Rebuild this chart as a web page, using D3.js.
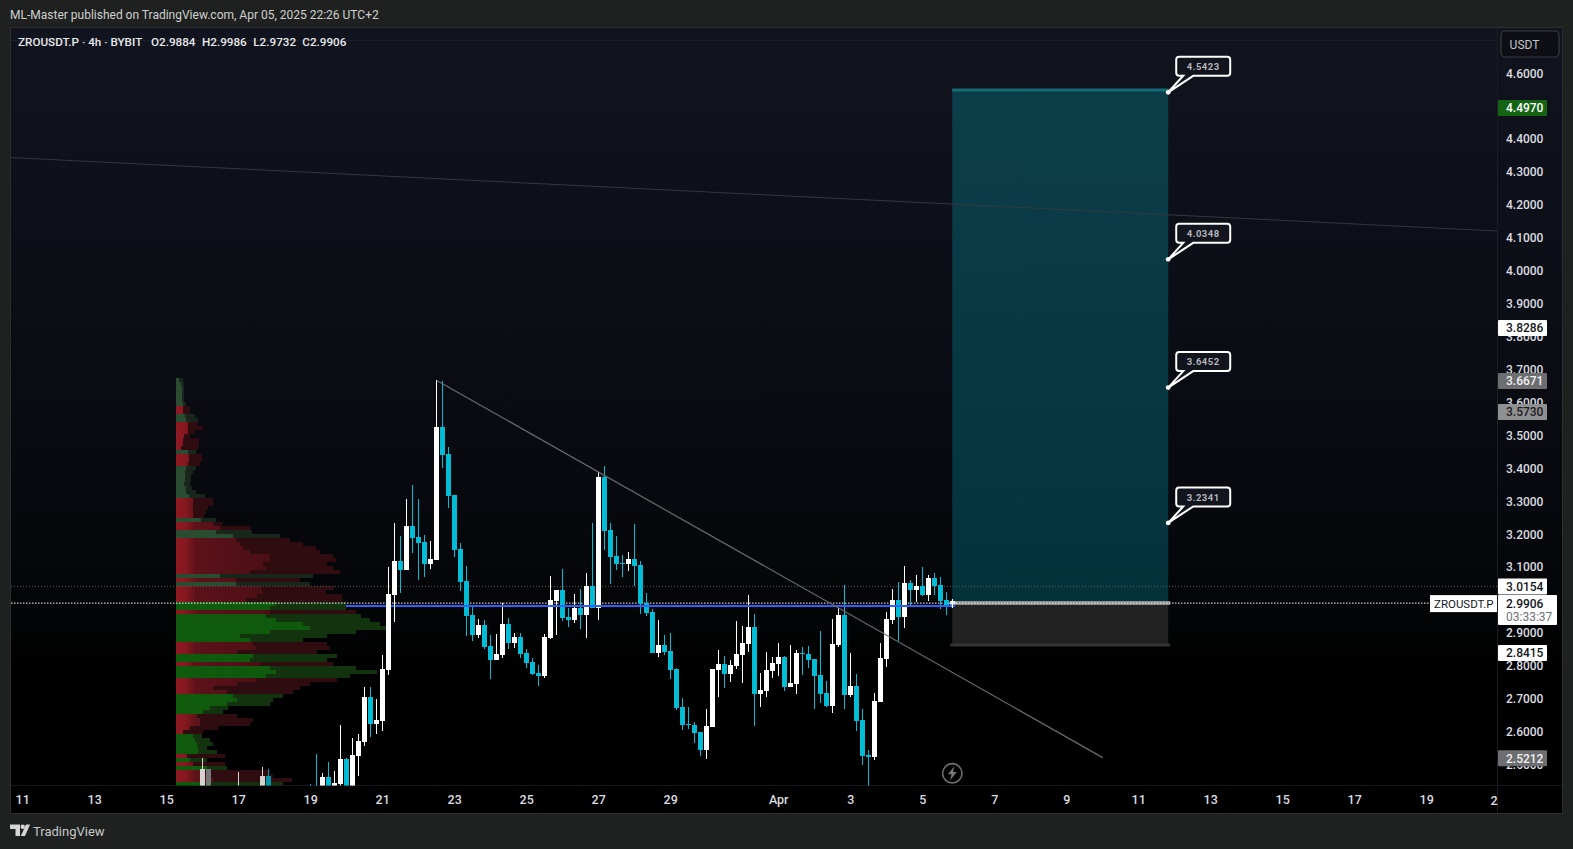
<!DOCTYPE html>
<html><head><meta charset="utf-8">
<style>html,body{margin:0;padding:0;background:#1f2120;overflow:hidden}svg{display:block}text{font-family:Roboto,"Open Sans",sans-serif}</style>
<script src="https://cdn.jsdelivr.net/npm/d3@7"></script></head><body><div id="c"></div>
<script>
// ---------- DATA ----------
const barOpen=[2.41,2.42,2.41,2.455,2.41,2.434,2.51,2.42,2.519,2.562,2.699,2.617,2.626,2.782,3.01,3.114,3.086,3.221,3.187,3.172,3.105,3.117,3.522,3.44,3.315,3.15,3.053,2.949,2.888,2.919,2.855,2.812,2.827,2.922,2.864,2.882,2.833,2.806,2.772,2.763,2.879,2.992,3.025,2.943,2.934,2.971,2.949,3.038,2.971,3.37,3.208,3.129,3.108,3.105,3.12,3.102,2.986,2.958,2.833,2.858,2.839,2.785,2.668,2.617,2.614,2.592,2.537,2.608,2.781,2.8,2.769,2.793,2.827,2.86,2.912,2.708,2.717,2.778,2.8,2.821,2.729,2.739,2.833,2.83,2.815,2.766,2.711,2.672,2.857,2.949,2.705,2.732,2.629,2.522,2.516,2.684,2.815,2.934,2.995,2.943,3.046,3.025,3.037,3.01,3.062,3.04,2.995,2.9884];
const barHigh=[2.434,2.526,2.468,2.501,2.474,2.614,2.513,2.574,2.587,2.73,2.73,2.693,2.827,3.096,3.23,3.19,3.303,3.345,3.303,3.193,3.175,3.666,3.662,3.461,3.315,3.169,3.099,2.974,2.937,2.934,2.888,2.891,2.986,2.94,2.894,2.894,2.846,2.818,2.797,2.891,3.068,3.025,3.089,2.971,3.013,3.028,3.077,3.23,3.385,3.403,3.23,3.19,3.132,3.141,3.227,3.114,3.016,2.967,2.934,2.888,2.894,2.788,2.696,2.668,2.623,2.592,2.662,2.784,2.842,2.824,2.812,2.931,2.915,3.01,2.952,2.772,2.836,2.821,2.864,2.824,2.857,2.842,2.851,2.854,2.815,2.9,2.748,2.937,2.97,3.04,2.833,2.769,2.662,2.537,2.711,2.864,2.958,3.028,3.049,3.098,3.056,3.071,3.095,3.071,3.077,3.065,3.019,2.9986];
const barLow=[2.39,2.39,2.4,2.4,2.4,2.428,2.41,2.41,2.458,2.55,2.577,2.587,2.596,2.766,2.928,3.016,3.086,3.138,3.056,3.065,3.089,3.117,3.397,3.275,3.126,3.022,2.885,2.87,2.879,2.846,2.754,2.812,2.818,2.846,2.849,2.818,2.788,2.766,2.733,2.757,2.876,2.888,2.931,2.913,2.925,2.907,2.879,2.971,2.934,3.147,3.044,3.086,3.065,3.083,3.036,2.952,2.946,2.833,2.821,2.827,2.754,2.66,2.598,2.601,2.559,2.519,2.51,2.608,2.699,2.726,2.745,2.784,2.742,2.836,2.611,2.668,2.699,2.757,2.763,2.717,2.729,2.708,2.766,2.787,2.662,2.681,2.668,2.65,2.851,2.662,2.699,2.595,2.492,2.428,2.507,2.684,2.79,2.921,2.87,2.909,2.979,2.988,3.007,2.992,3.01,2.967,2.949,2.9732];
const barClose=[2.4,2.4,2.455,2.41,2.437,2.51,2.42,2.523,2.565,2.699,2.617,2.629,2.785,3.013,3.114,3.086,3.221,3.184,3.169,3.105,3.12,3.522,3.437,3.312,3.147,3.05,2.946,2.888,2.919,2.852,2.812,2.83,2.922,2.864,2.882,2.83,2.803,2.769,2.763,2.882,2.995,3.025,2.94,2.934,2.971,2.949,3.038,2.971,3.37,3.205,3.126,3.105,3.105,3.12,3.099,2.983,2.955,2.833,2.858,2.836,2.782,2.666,2.614,2.614,2.589,2.537,2.611,2.784,2.8,2.769,2.796,2.83,2.864,2.912,2.708,2.72,2.781,2.803,2.821,2.729,2.742,2.833,2.83,2.812,2.763,2.708,2.672,2.86,2.949,2.705,2.732,2.626,2.519,2.516,2.687,2.818,2.937,2.995,2.943,3.046,3.025,3.037,3.01,3.062,3.037,2.992,2.979,2.9906];
const firstBarDay=8; // Mar 19
const earlyIndex=[-18,-17,-12,-8,-7];
const earlyTop=[2.48,2.48,2.40,2.458,2.458];
const earlyHigh=[2.513,2.48,2.471,2.486,2.48];
const earlyKind=['up','flat','up','up','down'];
const vpTopPrice=3.672, vpStep=0.012195;
const vpInner=[3,5,6,6,6,6,7,7,7,9,10,12,12,12,8,7,7,5,12,13,13,12,10,9,9,9,8,10,10,13,17,17,17,17,17,25,37,44,40,57,60,64,67,74,94,94,87,90,74,44,60,60,85,87,81,70,100,94,94,90,100,127,134,94,64,74,77,81,61,77,74,84,94,100,90,81,61,37,51,57,61,51,34,27,21,24,24,14,7,17,19,21,22,22,11,14,17,31,24,31,37,27];
const vpTotal=[7,8,8,8,8,8,10,14,14,19,22,22,27,19,14,23,23,22,20,26,26,24,20,17,15,15,14,16,20,29,37,37,32,30,28,40,46,75,76,104,114,127,140,144,157,160,151,157,164,137,124,134,158,150,166,167,170,170,180,185,194,204,211,180,151,127,151,154,141,161,151,157,180,201,174,161,134,124,117,107,97,94,52,47,61,77,74,42,27,26,34,37,31,41,49,31,49,51,94,97,116,107];
const vpSide="nnnnnnnrrnnrrrrrrrnrrrnnnnnnnnrrrrrnrrnnrrrrrrrrrnrnrrrrggrgggggggrrrggrgggrrrrgggggrrrrrgggggrgrgrrrg".split('');
const priceTicks=[4.6,4.4,4.3,4.2,4.1,4.0,3.9,3.8,3.7,3.6,3.5,3.4,3.3,3.2,3.1,2.9,2.8,2.7,2.6,2.5];
const dayTicks=[0,2,4,6,8,10,12,14,16,18,21,23,25,27,29,31,33,35,37,39];
const dayLabels=['11','13','15','17','19','21','23','25','27','29','Apr','3','5','7','9','11','13','15','17','19'];
const lastDayLabel='2';
const targets=[4.5423,4.0348,3.6452,3.2341];
const targetLabels=['4.5423','4.0348','3.6452','3.2341'];
const trendLong=[[-0.325,4.344],[40.95,4.121]];
const trendDown=[[11.5,3.6671],[30,2.5212]];
const boxDays=[25.82,31.82], boxTarget=4.549, boxEntry=2.9906, boxStop=2.863;
const lastPrice=2.9906, dottedLevel=3.043, bluePrice=2.9815, blueDays=[4.8,25.9];
const scaleTags=[{p:4.497,t:'4.4970',k:'green'},{p:3.8286,t:'3.8286',k:'white'},{p:3.6671,t:'3.6671',k:'gray'},{p:3.573,t:'3.5730',k:'lgray'},{p:dottedLevel,t:'3.0154',k:'white'},{p:2.8415,t:'2.8415',k:'white'},{p:2.5212,t:'2.5212',k:'gray'}];
const headerText='ML-Master published on TradingView.com, Apr 05, 2025 22:26 UTC+2';
const legendTitle='ZROUSDT.P · 4h · BYBIT';
const legendOHLC=['O2.9884','H2.9986','L2.9732','C2.9906'];

// ---------- LAYOUT ----------
const W=1573,H=849,L=11,R=1497,T=28,B=785.5,PR=1562,PB=813;
const svg=d3.select('#c').append('svg').attr('width',W).attr('height',H);
const x=d3.scaleLinear().domain([0,36]).range([22.7,1318.7]);
const y=d3.scaleLinear().domain([4.6,2.6]).range([73.3,731.7]);
const yBars=d3.scaleLinear().domain([4.6,2.6]).range([73.5,729.5]);
const vpX=d3.scaleLinear().domain([0,100]).range([176,276]);
const defs=svg.append('defs');
const bg=defs.append('linearGradient').attr('id','bg').attr('x1',0).attr('y1',0).attr('x2',0).attr('y2',1);
[[0,'#11141e'],[.35,'#0c0e16'],[.6,'#08090e'],[.76,'#030405'],[.82,'#000'],[1,'#000']].forEach(s=>bg.append('stop').attr('offset',s[0]).attr('stop-color',s[1]));
const tg=defs.append('linearGradient').attr('id','teal').attr('x1',0).attr('y1',0).attr('x2',0).attr('y2',1);
[[0,'#0c3e4a'],[1,'#03323b']].forEach(s=>tg.append('stop').attr('offset',s[0]).attr('stop-color',s[1]));
const rg=defs.append('linearGradient').attr('id','vpred').attr('gradientUnits','userSpaceOnUse').attr('x1',176).attr('x2',270).attr('y1',0).attr('y2',0);
[[0,'#8f1a22'],[.1,'#85181f'],[.22,'#5c1219'],[1,'#4a0f15']].forEach(s=>rg.append('stop').attr('offset',s[0]).attr('stop-color',s[1]));
defs.append('clipPath').attr('id','plot').append('rect').attr('x',L).attr('y',T).attr('width',R-L).attr('height',B-T);

svg.append('rect').attr('width',W).attr('height',H).attr('fill','#1f2120');
svg.append('rect').attr('x',L-1).attr('y',T-1).attr('width',PR-L+2).attr('height',PB-T+2).attr('fill','#2b2e2d');
svg.append('rect').attr('x',L).attr('y',T).attr('width',PR-L).attr('height',PB-T).attr('fill','url(#bg)');
svg.append('line').attr('x1',L).attr('x2',R).attr('y1',40.5).attr('y2',40.5).attr('stroke','#1b1f28');
svg.append('line').attr('x1',R+.5).attr('x2',R+.5).attr('y1',T).attr('y2',PB).attr('stroke','#1b1e25');
svg.append('line').attr('x1',L).attr('x2',PR).attr('y1',B).attr('y2',B).attr('stroke','#15171c');

const plot=svg.append('g').attr('clip-path','url(#plot)');
plot.append('line').attr('x1',x(blueDays[0])).attr('x2',x(blueDays[1])).attr('y1',y(bluePrice)).attr('y2',y(bluePrice)).attr('stroke','#2962ff').attr('stroke-width',2);

// volume profile
const col={r:['#2f0c0f','url(#vpred)'],g:['#12330d','#0f5a0c'],n:['#19261c','#2a4c30']};
const vp=plot.append('g').attr('shape-rendering','crispEdges');
vp.selectAll('.o').data(vpTotal).join('rect').attr('x',vpX(0)).attr('y',(d,i)=>yBars(vpTopPrice-i*vpStep)).attr('height',4).attr('width',d=>vpX(d)-vpX(0)).attr('fill',(d,i)=>col[vpSide[i]][0]);
vp.selectAll('.i').data(vpInner).join('rect').attr('x',vpX(0)).attr('y',(d,i)=>yBars(vpTopPrice-i*vpStep)).attr('height',4).attr('width',d=>vpX(d)-vpX(0)).attr('fill',(d,i)=>col[vpSide[i]][1]);

// early bars, dimmed over profile
const barX=i=>Math.floor(x(firstBarDay+i/6));
const eCol={up:'#d2d2d2',flat:'#777',down:'#0b93a8'};
earlyIndex.forEach((ix,k)=>{
  const c=eCol[earlyKind[k]];
  plot.append('rect').attr('x',barX(ix)).attr('y',yBars(earlyHigh[k])).attr('width',1).attr('height',yBars(2.4)-yBars(earlyHigh[k])).attr('fill',c).attr('shape-rendering','crispEdges');
  if(ix!==-12) plot.append('rect').attr('x',barX(ix)-2).attr('y',yBars(earlyTop[k])).attr('width',5).attr('height',yBars(2.4)-yBars(earlyTop[k])).attr('fill',c).attr('shape-rendering','crispEdges');
});

// long position box
const bx0=x(boxDays[0]),bx1=x(boxDays[1]);
plot.append('rect').attr('x',bx0).attr('y',y(boxTarget)).attr('width',bx1-bx0).attr('height',y(boxEntry)-y(boxTarget)).attr('fill','url(#teal)');
plot.append('rect').attr('x',bx0).attr('y',y(boxEntry)).attr('width',bx1-bx0).attr('height',y(boxStop)-y(boxEntry)).attr('fill','#212221');
plot.append('line').attr('x1',bx0).attr('x2',bx1+1).attr('y1',y(boxTarget)).attr('y2',y(boxTarget)).attr('stroke','#146a76').attr('stroke-width',3);
plot.append('line').attr('x1',bx0-2).attr('x2',bx1+2).attr('y1',y(boxEntry)).attr('y2',y(boxEntry)).attr('stroke','#8c8d8c').attr('stroke-width',4);
plot.append('line').attr('x1',bx0-2).attr('x2',bx1+2).attr('y1',y(boxStop)).attr('y2',y(boxStop)).attr('stroke','#333433').attr('stroke-width',3);

// dotted levels
plot.append('line').attr('x1',L).attr('x2',R).attr('y1',y(dottedLevel)+.5).attr('y2',y(dottedLevel)+.5).attr('stroke','#5a5c60').attr('stroke-dasharray','1 2');
plot.append('line').attr('x1',L).attr('x2',1430).attr('y1',y(lastPrice)).attr('y2',y(lastPrice)).attr('stroke','#fff').attr('stroke-dasharray','1.5 1.5');

// candles
const bars=d3.range(barOpen.length);
const cUp='#ffffff',cDn='#00bcd4';
const cg=plot.append('g').attr('shape-rendering','crispEdges');
cg.selectAll('.w').data(bars).join('rect').attr('x',barX).attr('y',i=>yBars(barHigh[i])).attr('width',1).attr('height',i=>yBars(barLow[i])-yBars(barHigh[i])).attr('fill',i=>barClose[i]>=barOpen[i]?cUp:cDn);
cg.selectAll('.b').data(bars).join('rect').attr('x',i=>barX(i)-2).attr('y',i=>yBars(Math.max(barOpen[i],barClose[i]))).attr('width',5).attr('height',i=>Math.max(1,yBars(Math.min(barOpen[i],barClose[i]))-yBars(Math.max(barOpen[i],barClose[i])))).attr('fill',i=>barClose[i]>=barOpen[i]?cUp:cDn);
plot.append('line').attr('x1',x(11)).attr('x2',x(blueDays[1])).attr('y1',y(bluePrice)).attr('y2',y(bluePrice)).attr('stroke','#2962ff').attr('stroke-width',2);

// trend lines
const ln=d3.line().x(d=>x(d[0])).y(d=>y(d[1]));
plot.append('path').attr('d',ln(trendLong)).attr('fill','none').attr('stroke','#34383e').attr('stroke-width',1);
plot.append('path').attr('d',ln(trendDown)).attr('fill','none').attr('stroke','#6a6b6e').attr('stroke-width',1.2);

// crosshair
const cx=x(firstBarDay+(barOpen.length-1)/6)-.3,cy=y(lastPrice);
plot.append('path').attr('d',`M${cx-3.5},${cy}H${cx+3.5}M${cx},${cy-3.5}V${cy+5}`).attr('stroke','#fff').attr('stroke-width',1.2);

// target callouts
targets.forEach((p,i)=>{
  const px=bx1,py=y(p),g=plot.append('g');
  const bt=py-35.5,bb=py-16.5,bl=px+8,br=px+62;
  g.append('path').attr('d',`M${bl+3},${bt}H${br-3}Q${br},${bt} ${br},${bt+3}V${bb-3}Q${br},${bb} ${br-3},${bb}H${bl+17}L${px},${py}L${bl+7},${bb}H${bl+3}Q${bl},${bb} ${bl},${bb-3}V${bt+3}Q${bl},${bt} ${bl+3},${bt}Z`).attr('fill','#12151e').attr('stroke','#fff').attr('stroke-width',2);
  g.append('circle').attr('cx',px).attr('cy',py).attr('r',2.4).attr('fill','#fff');
  g.append('text').attr('x',(bl+br)/2).attr('y',(bt+bb)/2+.5).attr('dy','.35em').attr('text-anchor','middle').attr('font-size',9.5).attr('font-weight',700).attr('fill','#b4b6bb').attr('letter-spacing',.5).text(targetLabels[i]);
});

// lightning icon
const ic=svg.append('g').attr('transform',`translate(${952.3},${773.3})`);
ic.append('circle').attr('r',9.7).attr('fill','none').attr('stroke','#6f7072').attr('stroke-width',1.6);
ic.append('path').attr('d','M2,-7L-4.5,1H-.8L-2.2,7L4.5,-1.2H.8Z').attr('fill','#77787a');

// axes
const ya=d3.axisRight(y).tickValues(priceTicks).tickFormat(d3.format('.4f')).tickSize(0).tickPadding(0);
const yg=svg.append('g').attr('transform',`translate(1506,0)`).call(ya);
yg.select('.domain').remove();
yg.selectAll('text').attr('font-size',12).attr('font-weight',500).attr('fill','#dcdde0').attr('font-family','Roboto');
const xa=d3.axisBottom(x).tickValues(dayTicks).tickFormat((d,i)=>dayLabels[i]).tickSize(0).tickPadding(0);
const xg=svg.append('g').attr('transform',`translate(-0.5,795)`).call(xa);
xg.select('.domain').remove();
xg.selectAll('text').attr('font-size',12.5).attr('font-weight',500).attr('fill','#dcdde0').attr('font-family','Roboto');
svg.append('text').attr('x',1494).attr('y',804.5).attr('text-anchor','middle').attr('font-size',12.5).attr('font-weight',500).attr('fill','#dcdde0').text(lastDayLabel);

// scale tags
const tagF={green:'#146414',white:'#fff',gray:'#6d6e70',lgray:'#8f9092'},tagT={green:'#fff',white:'#131722',gray:'#f0f0f0',lgray:'#1c1c1c'};
scaleTags.forEach(t=>{
  const yy=y(t.p)+.7;
  svg.append('rect').attr('x',1498).attr('y',yy-8).attr('width',49).attr('height',16).attr('rx',1).attr('fill',tagF[t.k]);
  svg.append('text').attr('x',1506).attr('y',yy).attr('dy','.35em').attr('font-size',12).attr('font-weight',500).attr('fill',tagT[t.k]).text(t.t);
});
// last price tag
const ly=y(lastPrice);
svg.append('rect').attr('x',1430).attr('y',ly-8).attr('width',67).attr('height',17).attr('fill','#fff');
svg.append('text').attr('x',1434).attr('y',ly+.5).attr('dy','.35em').attr('font-size',11.5).attr('fill','#131722').text('ZROUSDT.P');
svg.append('rect').attr('x',1498).attr('y',ly-8).attr('width',59).attr('height',30).attr('rx',1).attr('fill','#fff');
svg.append('text').attr('x',1506).attr('y',ly+.5).attr('dy','.35em').attr('font-size',12).attr('font-weight',500).attr('fill','#131722').text('2.9906');
svg.append('text').attr('x',1506).attr('y',ly+14).attr('dy','.35em').attr('font-size',12).attr('fill','#6f7177').text('03:33:37');

// USDT button
svg.append('rect').attr('x',1501).attr('y',31).attr('width',58).attr('height',26).attr('rx',4).attr('fill','#0d0f14').attr('stroke','#3a3d42').attr('stroke-width',1.2);
svg.append('text').attr('x',1524.5).attr('y',44.7).attr('dy','.35em').attr('text-anchor','middle').attr('font-size',12).attr('fill','#c4c5c8').text('USDT');

// legend and header
svg.append('text').attr('x',10).attr('y',14.7).attr('dy','.35em').attr('font-size',12).attr('fill','#cfd0cf').text(headerText);
svg.append('text').attr('x',18).attr('y',41.5).attr('dy','.35em').attr('font-size',11.7).attr('font-weight',500).attr('fill','#e8e9eb').text(legendTitle);
const legendX=[151,202,253.3,302.3];
legendOHLC.forEach((t,i)=>svg.append('text').attr('x',legendX[i]).attr('y',41.5).attr('dy','.35em').attr('font-size',11.7).attr('font-weight',500).attr('fill','#e8e9eb').text(t));

// footer logo
const lg=svg.append('g').attr('fill','#d6d6d6');
lg.append('path').attr('d','M10,824.5H20V836H15.5V829H10Z');
lg.append('circle').attr('cx',22.7).attr('cy',826.7).attr('r',2.2);
lg.append('path').attr('d','M26,824.5H30L25,836H20.8Z');
svg.append('text').attr('x',33).attr('y',831).attr('dy','.35em').attr('font-size',13).attr('fill','#c9c9c9').text('TradingView');
</script></body></html>
